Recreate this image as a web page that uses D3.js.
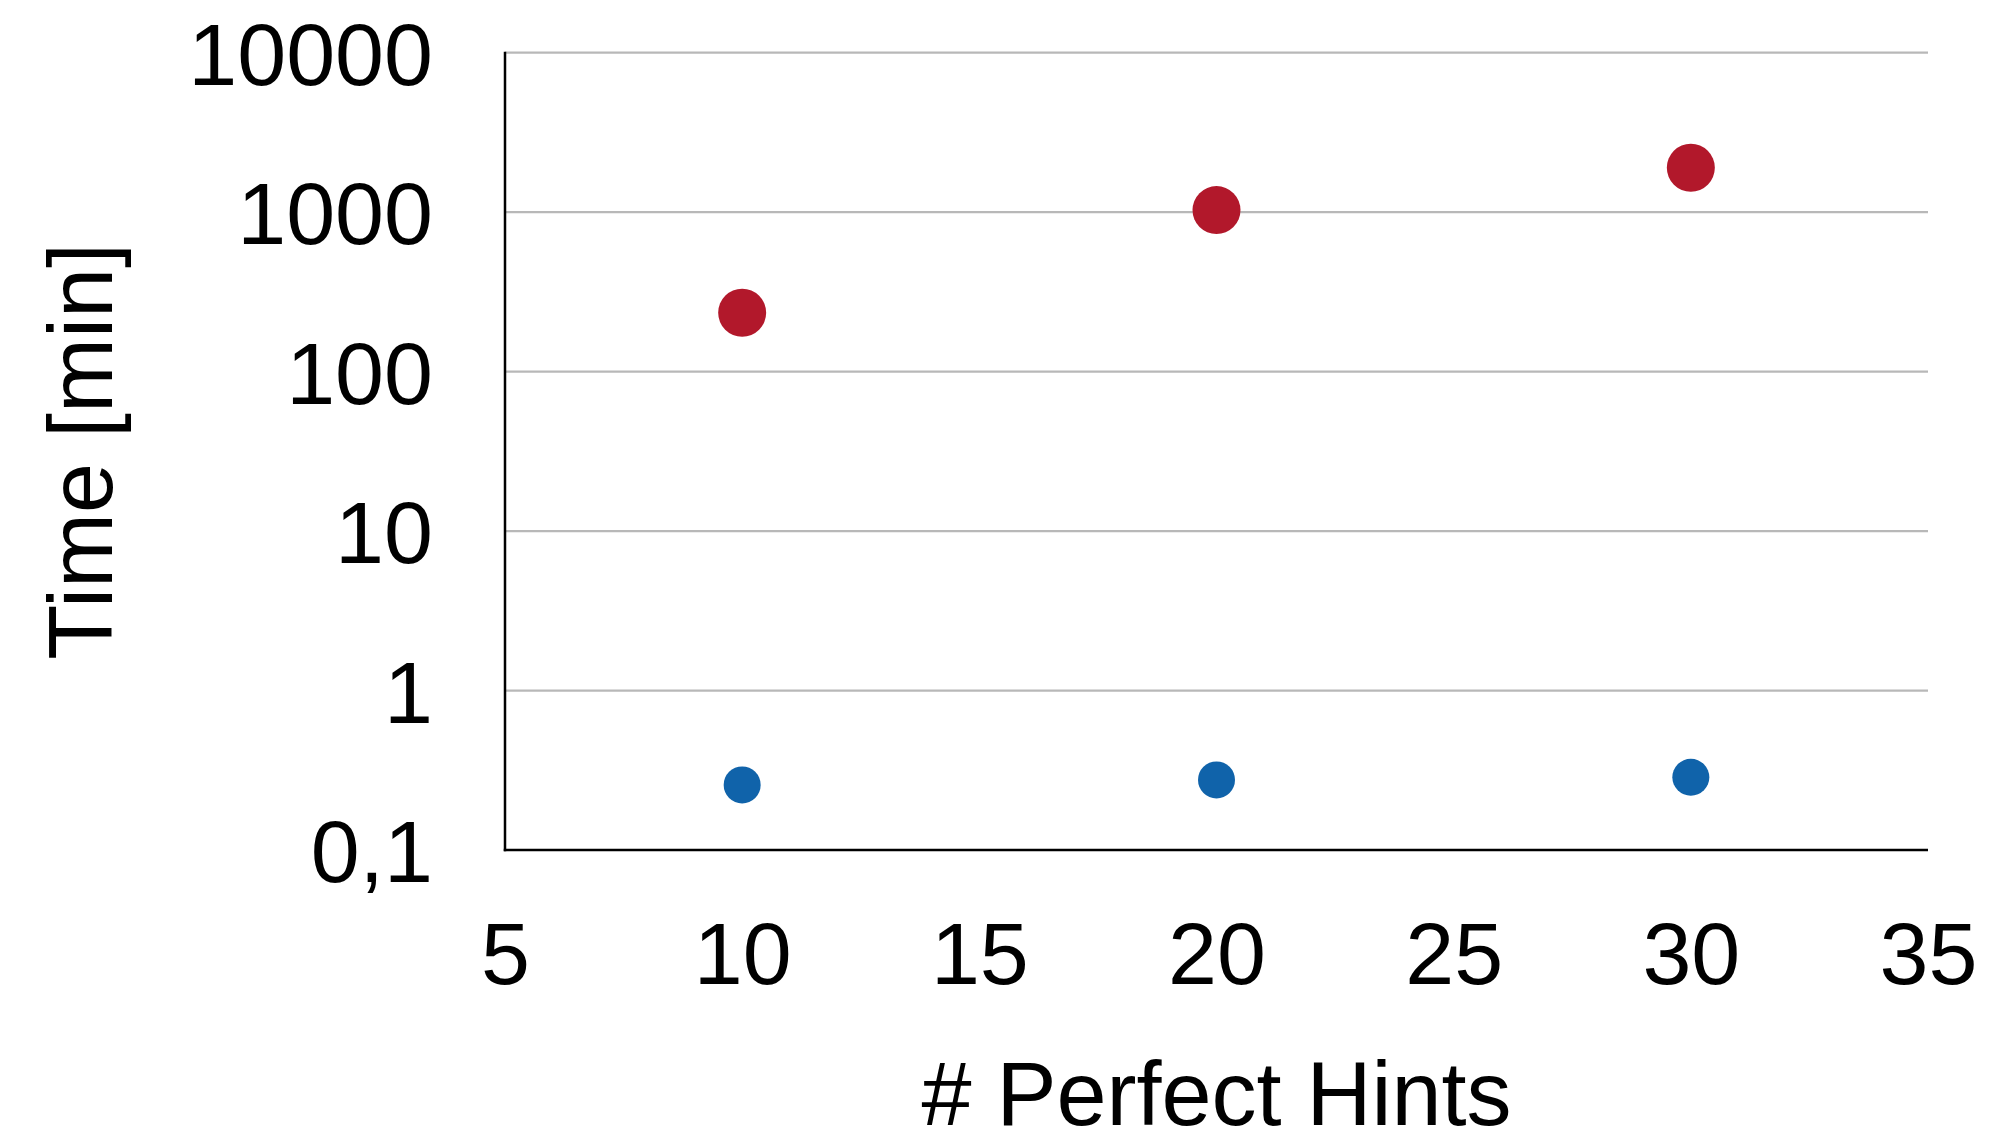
<!DOCTYPE html>
<html>
<head>
<meta charset="utf-8">
<script src="https://cdn.jsdelivr.net/npm/d3@7"></script>
<style>
  html, body { margin: 0; padding: 0; background: #fff; }
  svg { display: block; }
  text { font-family: "Liberation Sans", Arial, Helvetica, sans-serif; fill: #000; }
</style>
</head>
<body>
<svg id="chart" width="2012" height="1145"></svg>
<script>
// ---- data ----
const hints = [10, 20, 30];
const slowTimes = [234, 1030, 1900];   // red series (min)
const fastTimes = [0.256, 0.275, 0.286]; // blue series (min)
const yTickValues = [0.1, 1, 10, 100, 1000, 10000];
const yTickLabels = ["0,1", "1", "10", "100", "1000", "10000"];
const xTickValues = [5, 10, 15, 20, 25, 30, 35];
const xTitle = "# Perfect Hints";
const yTitle = "Time [min]";

// ---- layout ----
const W = 2012, H = 1145;
const plot = { left: 505, right: 1928, top: 52.7, bottom: 850 };
const svg = d3.select("#chart");

const x = d3.scaleLinear().domain([5, 35]).range([plot.left, plot.right]);
const y = d3.scaleLog().domain([0.1, 10000]).range([plot.bottom, plot.top]);

// gridlines
svg.append("g")
  .selectAll("line")
  .data(yTickValues.slice(1))
  .join("line")
  .attr("x1", plot.left).attr("x2", plot.right)
  .attr("y1", d => y(d)).attr("y2", d => y(d))
  .attr("stroke", "#b8b8b8").attr("stroke-width", 2.2);

// y axis
const yAxis = d3.axisLeft(y)
  .tickValues(yTickValues)
  .tickFormat((d, i) => yTickLabels[i])
  .tickSize(0).tickPadding(72);
const gy = svg.append("g").attr("transform", `translate(${plot.left},0)`).call(yAxis);
gy.select(".domain").remove();
gy.selectAll("text")
  .style("font-size", "88px")
  .attr("dy", "0.36em")
  .attr("fill", "#000");

// x axis
const xAxis = d3.axisBottom(x).tickValues(xTickValues).tickFormat(d3.format("d")).tickSize(0).tickPadding(72);
const gx = svg.append("g").attr("transform", `translate(0,${plot.bottom})`).call(xAxis);
gx.select(".domain").remove();
gx.selectAll("text")
  .style("font-size", "88px")
  .attr("dy", "0.71em")
  .attr("y", 72)
  .attr("fill", "#000");

// axis lines
svg.append("line")
  .attr("x1", plot.left).attr("x2", plot.left)
  .attr("y1", plot.top - 1).attr("y2", plot.bottom + 1.25)
  .attr("stroke", "#000").attr("stroke-width", 2.5);
svg.append("line")
  .attr("x1", plot.left - 1.25).attr("x2", plot.right)
  .attr("y1", plot.bottom).attr("y2", plot.bottom)
  .attr("stroke", "#000").attr("stroke-width", 2.5);

// points
svg.append("g").selectAll("circle")
  .data(hints.map((h, i) => ({ h, v: slowTimes[i] })))
  .join("circle")
  .attr("cx", d => x(d.h)).attr("cy", d => y(d.v))
  .attr("r", 24).attr("fill", "#b2182b");

svg.append("g").selectAll("circle")
  .data(hints.map((h, i) => ({ h, v: fastTimes[i] })))
  .join("circle")
  .attr("cx", d => x(d.h)).attr("cy", d => y(d.v))
  .attr("r", 18.5).attr("fill", "#1063aa");

// titles
svg.append("text")
  .attr("x", (plot.left + plot.right) / 2)
  .attr("y", 1125)
  .attr("text-anchor", "middle")
  .style("font-size", "90px")
  .text(xTitle);

svg.append("text")
  .attr("transform", `translate(112,${(plot.top + plot.bottom) / 2}) rotate(-90)`)
  .attr("text-anchor", "middle")
  .style("font-size", "90px")
  .text(yTitle);
</script>
</body>
</html>
